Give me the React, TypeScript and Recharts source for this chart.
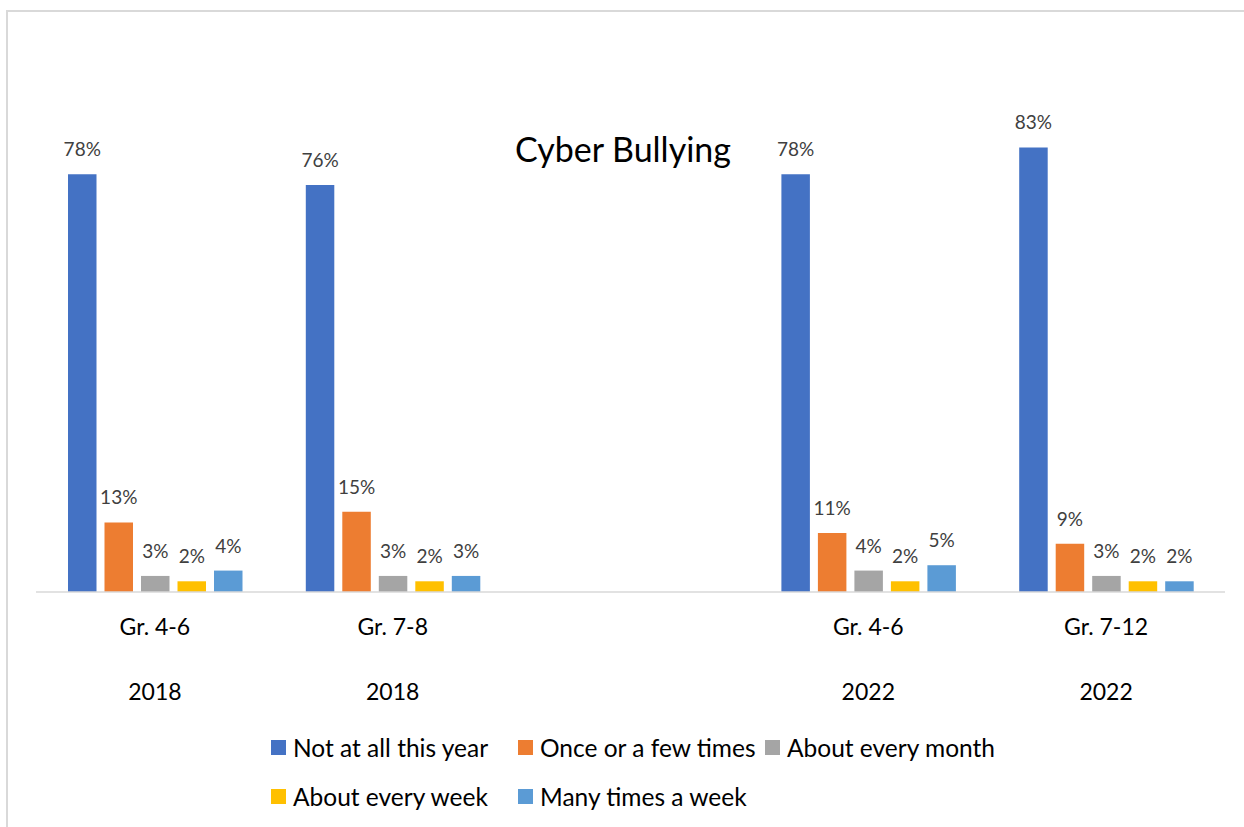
import React from 'react';
import { BarChart, Bar, XAxis, YAxis, Legend, LabelList } from 'recharts';

const groups = ['Gr. 4-6', 'Gr. 7-8', '', 'Gr. 4-6', 'Gr. 7-12'];
const years = ['2018', '2018', '', '2022', '2022'];

const notAtAll = [78, 76, null, 78, 83];
const onceOrFew = [13, 15, null, 11, 9];
const everyMonth = [3, 3, null, 4, 3];
const everyWeek = [2, 2, null, 2, 2];
const manyTimes = [4, 3, null, 5, 2];

const series = [
  { key: 'notAtAll', name: 'Not at all this year', color: '#4472C4', values: notAtAll },
  { key: 'onceOrFew', name: 'Once or a few times', color: '#ED7D31', values: onceOrFew },
  { key: 'everyMonth', name: 'About every month', color: '#A5A5A5', values: everyMonth },
  { key: 'everyWeek', name: 'About every week', color: '#FFC000', values: everyWeek },
  { key: 'manyTimes', name: 'Many times a week', color: '#5B9BD5', values: manyTimes },
];

const data = groups.map((g, i) => {
  const row: Record<string, any> = { name: `${g} ${years[i]}`.trim(), idx: i };
  series.forEach((s) => {
    row[s.key] = s.values[i];
  });
  return row;
});

const FONT = 'Lato, "Open Sans", sans-serif';

const CategoryTick = (props: any) => {
  const { x, y, payload } = props;
  const i = payload.index;
  return (
    <g>
      <text x={x} y={y + 43} textAnchor="middle" fontSize={23} fill="#000" fontFamily={FONT}>
        {groups[i]}
      </text>
      <text x={x} y={y + 108} textAnchor="middle" fontSize={23} fill="#000" fontFamily={FONT}>
        {years[i]}
      </text>
    </g>
  );
};

const LegendContent = () => (
  <div style={{ display: 'flex', flexWrap: 'wrap', width: 760, fontFamily: FONT }}>
    {series.map((s) => (
      <div
        key={s.key}
        style={{ width: 247, height: 49, display: 'flex', alignItems: 'center', fontSize: 24.5, color: '#000', whiteSpace: 'nowrap' }}
      >
        <span style={{ width: 15, height: 15, background: s.color, marginRight: 7, display: 'inline-block', flexShrink: 0 }} />
        {s.name}
      </div>
    ))}
  </div>
);

const pct = (v: any) => (v === null || v === undefined ? '' : `${v}%`);

export default function App() {
  return (
    <div
      style={{
        position: 'absolute',
        left: 6,
        top: 10,
        width: 1260,
        height: 840,
        border: '2px solid #d9d9d9',
        background: '#fff',
        fontFamily: FONT,
      }}
    >
      <div
        style={{
          position: 'absolute',
          left: 0,
          width: 1230,
          top: 116,
          textAlign: 'center',
          fontSize: 34,
          color: '#000',
          zIndex: 2,
          pointerEvents: 'none',
        }}
      >
        Cyber Bullying
      </div>
      <BarChart
        width={1236}
        height={815}
        data={data}
        margin={{ top: 98, right: 19, left: 28, bottom: 105 }}
        barSize={28.5}
        barGap={8}
      >
        <XAxis
          dataKey="name"
          axisLine={{ stroke: '#d9d9d9', strokeWidth: 1.5 }}
          tickLine={false}
          tickSize={0}
          tickMargin={0}
          height={130}
          interval={0}
          tick={<CategoryTick />}
        />
        <YAxis hide width={0} domain={[0, 90]} />
        <Legend
          layout="horizontal"
          verticalAlign="middle"
          content={<LegendContent />}
          wrapperStyle={{ position: 'absolute', top: 711, left: 263, width: 760 }}
        />
        {series.map((s) => (
          <Bar key={s.key} dataKey={s.key} name={s.name} fill={s.color} isAnimationActive={false}>
            <LabelList
              dataKey={s.key}
              position="top"
              offset={18}
              formatter={pct}
              fontSize={19}
              fill="#404040"
              fontFamily={FONT}
            />
          </Bar>
        ))}
      </BarChart>
    </div>
  );
}
